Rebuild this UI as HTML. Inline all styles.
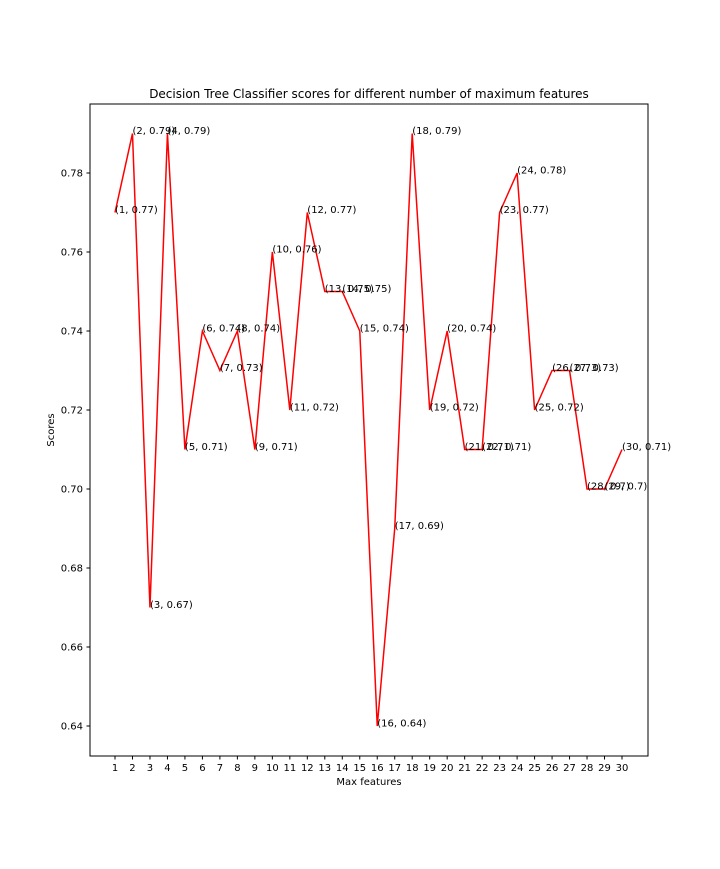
<!DOCTYPE html>
<html><head><meta charset="utf-8"><style>
body{margin:0;background:#fff;}
svg text{font-family:"DejaVu Sans","Liberation Sans",sans-serif;}
</style></head><body>
<svg id="chart" width="720" height="864" xmlns="http://www.w3.org/2000/svg">
<rect width="720" height="864" fill="#fff"/>
<text x="369" y="98" font-size="12" text-anchor="middle">Decision Tree Classifier scores for different number of maximum features</text>
<text x="369" y="785" font-size="10" text-anchor="middle">Max features</text>
<text x="0" y="0" font-size="10" text-anchor="middle" transform="translate(54,430) rotate(-90)">Scores</text>
<g id="marks"></g>
<rect x="90" y="104" width="558" height="652" fill="none" stroke="#000" stroke-width="1"/>
</svg>
<script>
const categories=[1,2,3,4,5,6,7,8,9,10,11,12,13,14,15,16,17,18,19,20,21,22,23,24,25,26,27,28,29,30];
const scores=[0.77,0.79,0.67,0.79,0.71,0.74,0.73,0.74,0.71,0.76,0.72,0.77,0.75,0.75,0.74,0.64,0.69,0.79,0.72,0.74,0.71,0.71,0.77,0.78,0.72,0.73,0.73,0.70,0.70,0.71];
const yTicks=[0.64,0.66,0.68,0.70,0.72,0.74,0.76,0.78];
const NS="http://www.w3.org/2000/svg";
function xs(v){return 115+(v-1)*(622-115)/29;}
function ys(v){return 726-(v-0.64)*(726-173)/0.14;}
const g=document.getElementById('marks');
function mk(t,a){const e=document.createElementNS(NS,t);for(const k in a)e.setAttribute(k,a[k]);g.appendChild(e);return e;}
yTicks.forEach(v=>{
  const y=ys(v);
  const l=mk('line',{x1:86.5,x2:90,y1:y,y2:y,stroke:'#000'});
  
  
  const t=mk('text',{x:83,y:y+3.5,'font-size':10,'text-anchor':'end'});
  t.textContent=v.toFixed(2);
  
  
});
categories.forEach(c=>{
  const x=xs(c);
  const l=mk('line',{x1:x,x2:x,y1:756,y2:759.5,stroke:'#000'});
  
  
  const t=mk('text',{x:x,y:771,'font-size':10,'text-anchor':'middle'});
  t.textContent=c;
  
  
});
const pts=categories.map((c,i)=>xs(c)+','+ys(scores[i])).join(' ');
const line=mk('polyline',{points:pts,fill:'none',stroke:'#ff0000','stroke-width':1.5});


categories.forEach((c,i)=>{
  const t=mk('text',{x:xs(c),y:ys(scores[i])+0.5,'font-size':10});
  t.textContent='('+c+', '+String(+scores[i].toFixed(2))+')';
  
  
});
</script>
</body></html>
